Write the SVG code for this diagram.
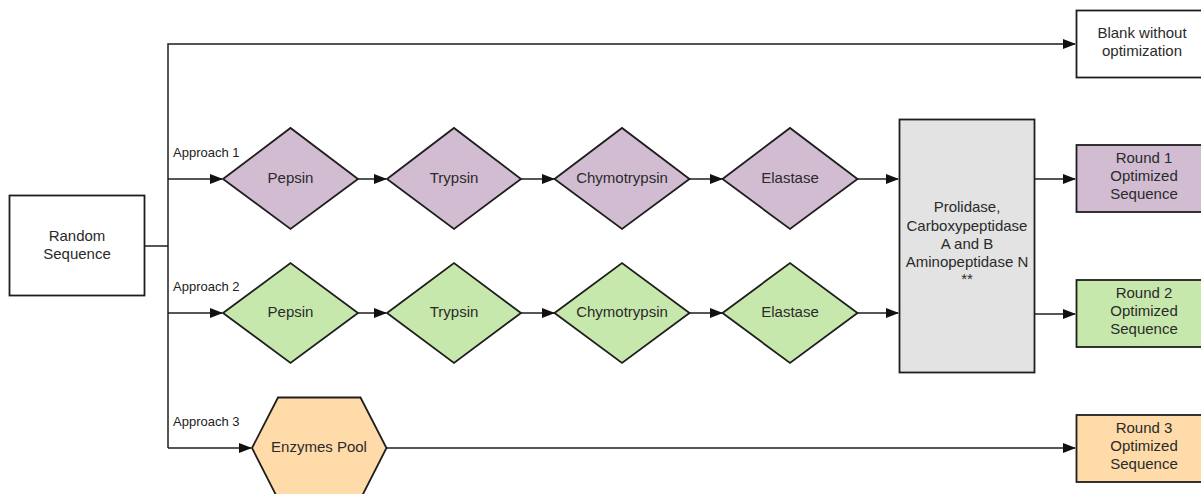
<svg xmlns="http://www.w3.org/2000/svg" width="1201" height="494" viewBox="0 0 1201 494">
<style>
.n{stroke:#1e1e1e;stroke-width:1.8}
.t{font-family:"Liberation Sans",Arial,sans-serif;font-size:15px;fill:#2a2a2a;text-anchor:middle}
.l{font-family:"Liberation Sans",Arial,sans-serif;font-size:13px;fill:#222}
.c{fill:none;stroke:#1e1e1e;stroke-width:1.5}
.p{fill:#D1BCD2}.g{fill:#C7E8AC}.o{fill:#FFDBA9}.w{fill:#fff}.s{fill:#E3E3E3}
</style>
<defs>
<marker id="ah" markerWidth="13" markerHeight="10" refX="12" refY="5" orient="auto" markerUnits="userSpaceOnUse">
<path d="M0,0 L13,5 L0,10 Z" fill="#111"/>
</marker>
</defs>
<rect width="1201" height="494" fill="#fff"/>
<g id="connectors">
<path class="c" d="M145,246 H168"/>
<path class="c" d="M168,448 V44 H1075" marker-end="url(#ah)"/>
<path class="c" d="M168,179 H222" marker-end="url(#ah)"/>
<path class="c" d="M168,313 H222" marker-end="url(#ah)"/>
<path class="c" d="M168,448 H251" marker-end="url(#ah)"/>
<path class="c" d="M358,179 H386" marker-end="url(#ah)"/>
<path class="c" d="M521,179 H554" marker-end="url(#ah)"/>
<path class="c" d="M689,179 H722" marker-end="url(#ah)"/>
<path class="c" d="M857,179 H898" marker-end="url(#ah)"/>
<path class="c" d="M358,313 H386" marker-end="url(#ah)"/>
<path class="c" d="M521,313 H554" marker-end="url(#ah)"/>
<path class="c" d="M689,313 H722" marker-end="url(#ah)"/>
<path class="c" d="M857,313 H898" marker-end="url(#ah)"/>
<path class="c" d="M1035,179 H1075" marker-end="url(#ah)"/>
<path class="c" d="M1035,314 H1075" marker-end="url(#ah)"/>
<path class="c" d="M387,448 H1075" marker-end="url(#ah)"/>
<text class="l" x="173" y="157">Approach 1</text>
<text class="l" x="173" y="291">Approach 2</text>
<text class="l" x="173" y="426">Approach 3</text>
</g>
<g id="random">
<rect class="n w" x="9.5" y="195.5" width="135" height="100"/>
<text class="t" x="77" y="241">Random</text>
<text class="t" x="77" y="259">Sequence</text>
</g>
<g id="blank">
<rect class="n w" x="1076.5" y="10.5" width="135" height="67"/>
<text class="t" x="1142" y="38">Blank without</text>
<text class="t" x="1142" y="56">optimization</text>
</g>
<g id="pepsin1"><polygon class="n p" points="223,179 290.5,128 358,179 290.5,229"/><text class="t" x="290.5" y="183">Pepsin</text></g>
<g id="trypsin1"><polygon class="n p" points="387,179 454,128 521,179 454,229"/><text class="t" x="454" y="183">Trypsin</text></g>
<g id="chymo1"><polygon class="n p" points="554.5,179 622,128 689.5,179 622,229"/><text class="t" x="622" y="183">Chymotrypsin</text></g>
<g id="elastase1"><polygon class="n p" points="722.5,179 790,128 857.5,179 790,229"/><text class="t" x="790" y="183">Elastase</text></g>
<g id="pepsin2"><polygon class="n g" points="223,313 290.5,263 358,313 290.5,363"/><text class="t" x="290.5" y="317">Pepsin</text></g>
<g id="trypsin2"><polygon class="n g" points="387,313 454,263 521,313 454,363"/><text class="t" x="454" y="317">Trypsin</text></g>
<g id="chymo2"><polygon class="n g" points="554.5,313 622,263 689.5,313 622,363"/><text class="t" x="622" y="317">Chymotrypsin</text></g>
<g id="elastase2"><polygon class="n g" points="722.5,313 790,263 857.5,313 790,363"/><text class="t" x="790" y="317">Elastase</text></g>
<g id="exo">
<rect class="n s" x="899.5" y="119.5" width="135" height="253"/>
<text class="t" x="967" y="212">Prolidase,</text>
<text class="t" x="967" y="231">Carboxypeptidase</text>
<text class="t" x="967" y="249">A and B</text>
<text class="t" x="967" y="267">Aminopeptidase N</text>
<text class="t" x="967" y="284">**</text>
</g>
<g id="pool">
<polygon class="n o" points="252,448 278,397.5 360.5,397.5 386.5,448 360.5,499 278,499"/>
<text class="t" x="319" y="452">Enzymes Pool</text>
</g>
<g id="round1">
<rect class="n p" x="1076.5" y="145" width="135" height="67"/>
<text class="t" x="1144" y="163">Round 1</text>
<text class="t" x="1144" y="181">Optimized</text>
<text class="t" x="1144" y="199">Sequence</text>
</g>
<g id="round2">
<rect class="n g" x="1076.5" y="280" width="135" height="67"/>
<text class="t" x="1144" y="298">Round 2</text>
<text class="t" x="1144" y="316">Optimized</text>
<text class="t" x="1144" y="334">Sequence</text>
</g>
<g id="round3">
<rect class="n o" x="1076.5" y="415" width="135" height="67"/>
<text class="t" x="1144" y="433">Round 3</text>
<text class="t" x="1144" y="451">Optimized</text>
<text class="t" x="1144" y="469">Sequence</text>
</g>
</svg>
